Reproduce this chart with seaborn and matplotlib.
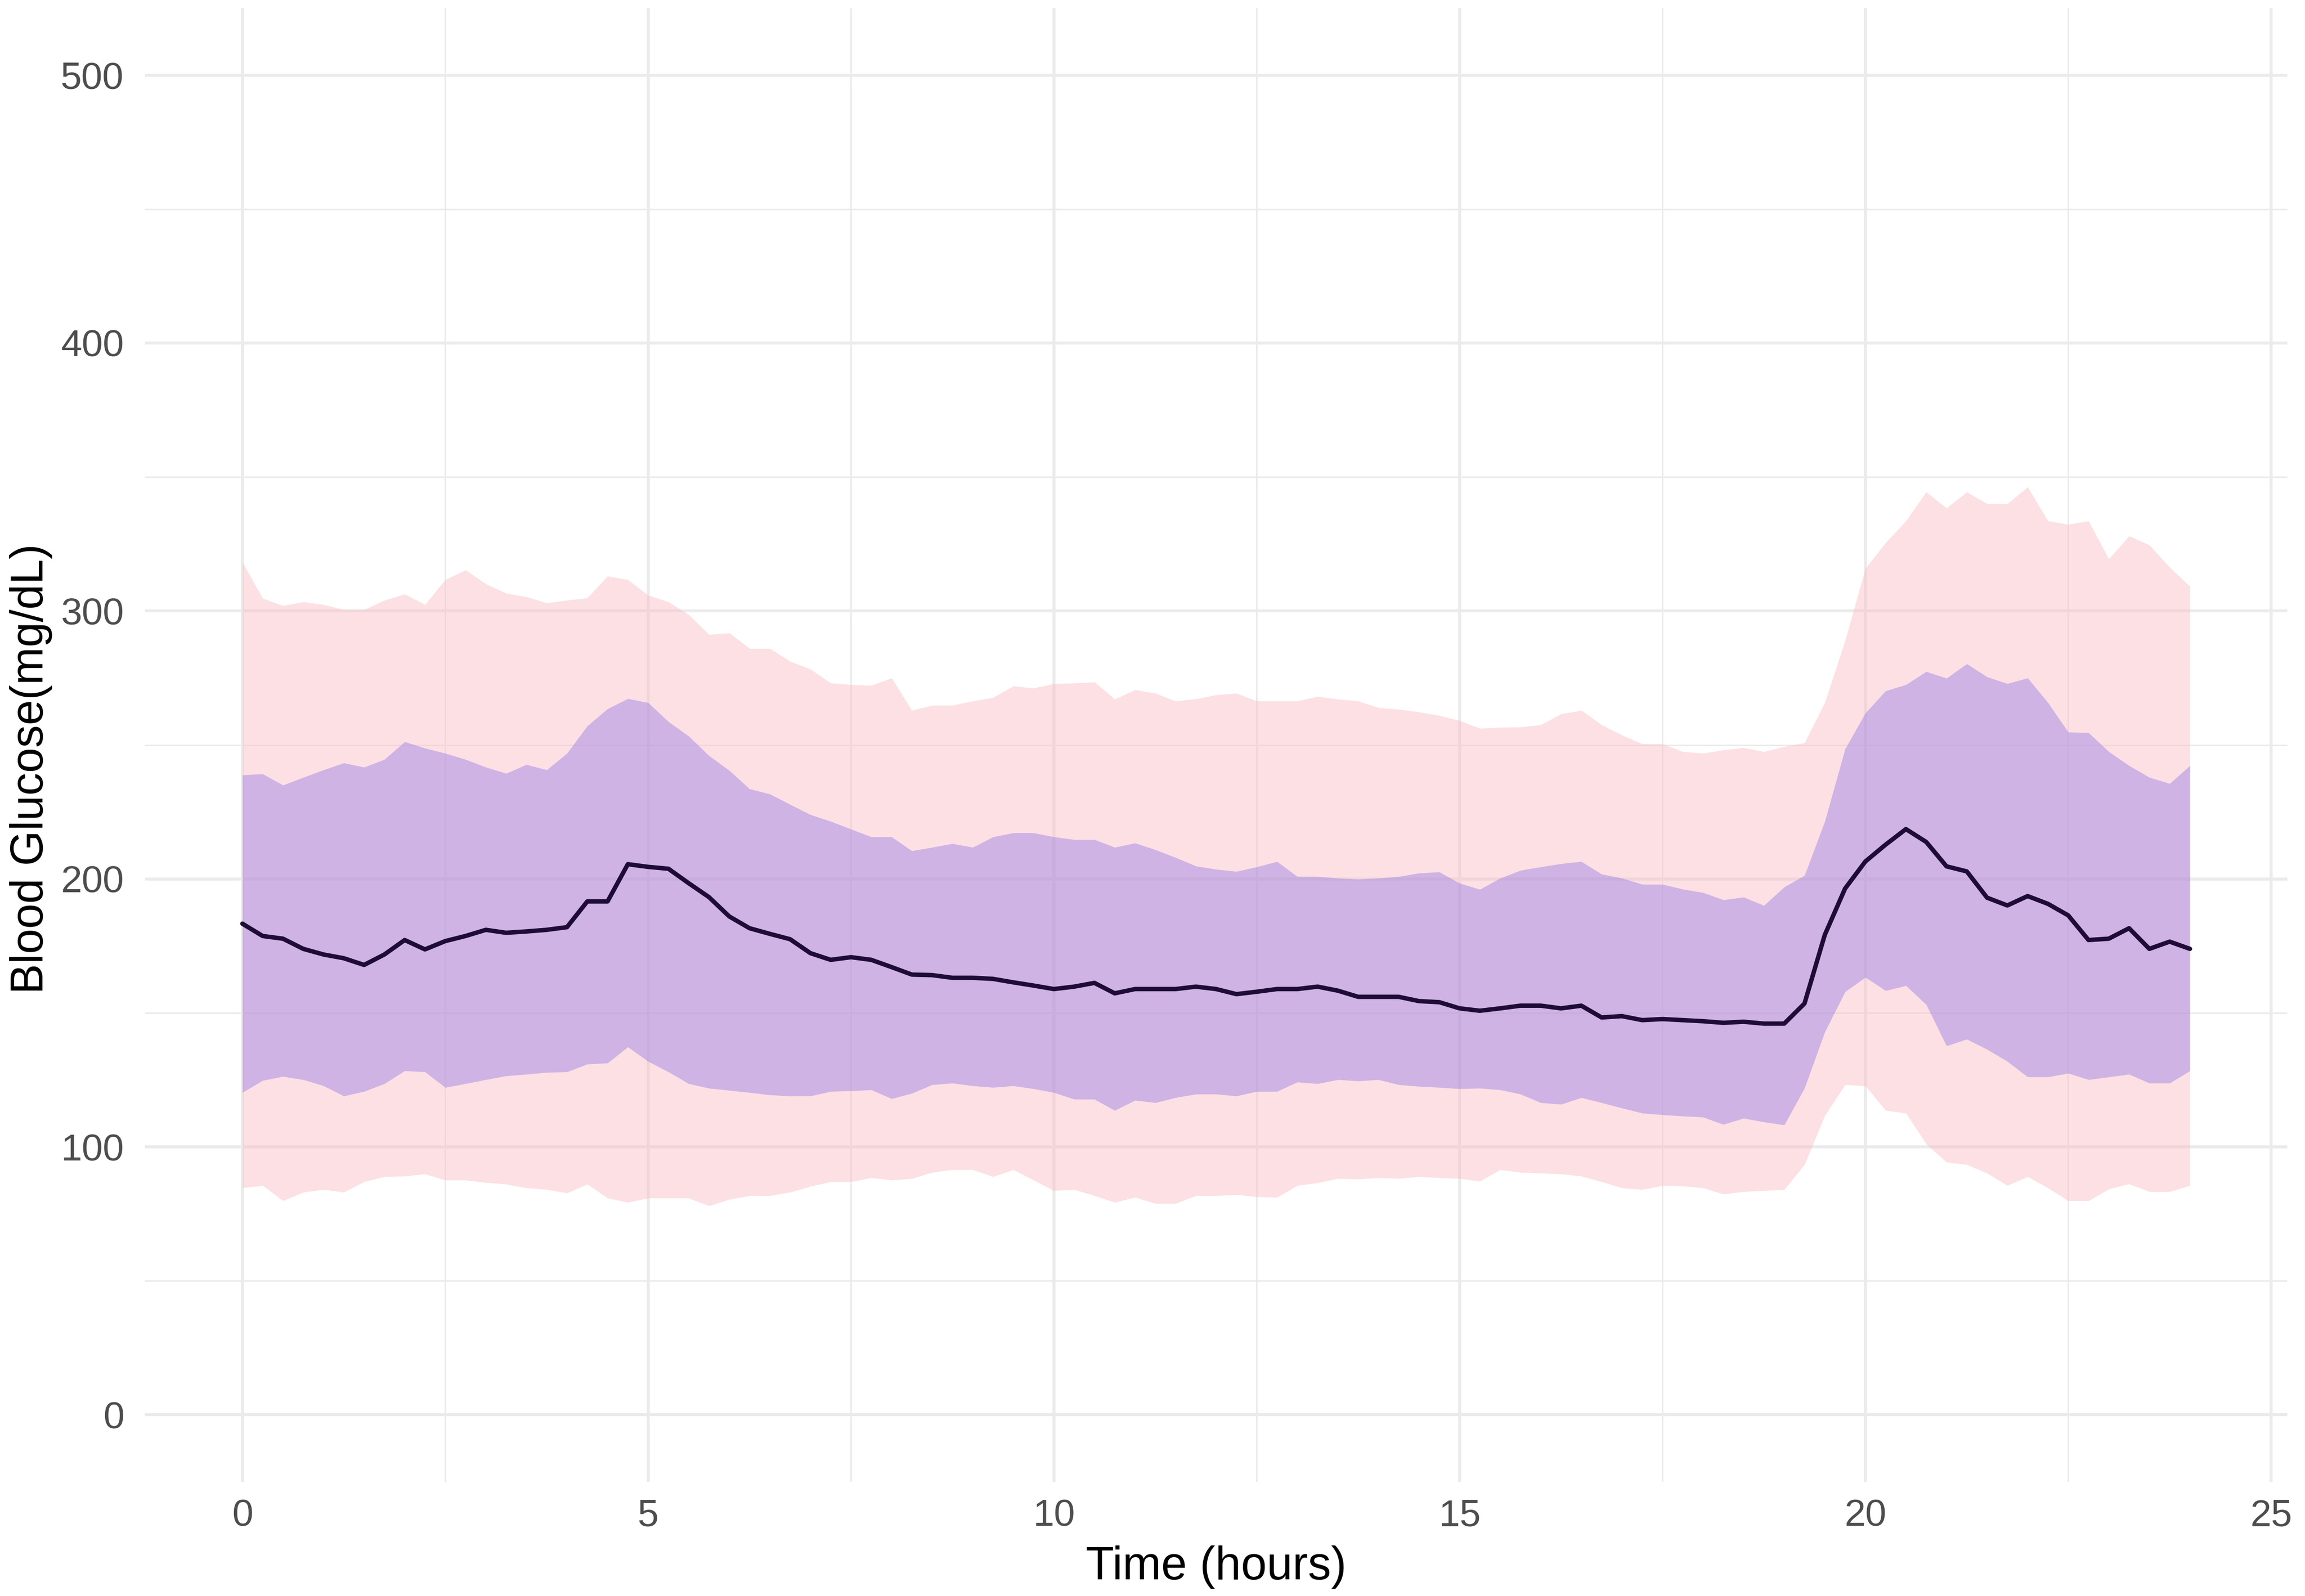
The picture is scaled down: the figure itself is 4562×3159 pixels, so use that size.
import numpy as np
import pandas as pd
import matplotlib
matplotlib.use("Agg")
import matplotlib.pyplot as plt
from matplotlib.ticker import MultipleLocator
import seaborn as sns

# 15-minute sampling grid over 24 hours
time_hours = np.linspace(0, 24, 97)

mean_bg = [
    183.3, 178.7, 177.7, 173.9, 171.8, 170.4, 167.9, 171.8, 177.2, 173.7,
    176.8, 178.7, 181.0, 179.9, 180.4, 181.0, 182.0, 191.6, 191.6, 205.5,
    204.5, 203.8, 198.4, 193.2, 186.0, 181.6, 179.5, 177.5, 172.3, 169.8,
    170.8, 169.8, 167.1, 164.3, 164.1, 163.1, 163.1, 162.7, 161.4, 160.2,
    158.9, 159.8, 161.2, 157.3, 158.9, 158.9, 158.9, 159.8, 158.9, 157.0,
    157.9, 158.9, 158.9, 159.8, 158.3, 156.0, 156.0, 156.0, 154.4, 154.0,
    151.7, 150.8, 151.7, 152.7, 152.7, 151.7, 152.7, 148.3, 148.8, 147.3,
    147.7, 147.3, 146.9, 146.3, 146.7, 146.0, 146.0, 153.5, 179.1, 196.4,
    206.5, 212.8, 218.6, 213.8, 204.7, 202.8, 193.0, 190.1, 193.6, 190.7,
    186.4, 177.2, 177.7, 181.6, 173.9, 176.6, 173.9,
]

inner_upper = [
    238.8, 239.2, 235.0, 237.9, 240.7, 243.3, 241.7, 244.6, 251.2, 248.8,
    246.9, 244.6, 241.7, 239.4, 242.7, 240.7, 246.9, 257.1, 263.5, 267.3,
    265.8, 258.7, 253.3, 246.0, 240.5, 233.6, 231.7, 227.8, 224.0, 221.5,
    218.6, 215.7, 215.7, 210.5, 211.8, 213.2, 211.8, 215.7, 217.2, 217.2,
    215.7, 214.7, 214.7, 211.8, 213.4, 210.9, 208.0, 204.8, 203.6, 202.8,
    204.5, 206.5, 200.9, 200.9, 200.3, 199.9, 200.3, 200.9, 202.2, 202.6,
    198.4, 196.1, 200.3, 203.2, 204.5, 205.7, 206.5, 201.8, 200.3, 198.0,
    198.0, 196.2, 194.9, 192.2, 193.2, 190.1, 197.0, 201.3, 221.5, 248.5,
    261.9, 270.2, 272.5, 277.4, 274.9, 280.3, 275.4, 272.9, 275.0, 265.8,
    254.8, 254.6, 247.5, 242.3, 237.9, 235.6, 242.3,
]

inner_lower = [
    120.3, 124.8, 126.3, 125.1, 122.8, 119.0, 120.7, 123.6, 128.4, 128.0,
    122.2, 123.6, 125.1, 126.5, 127.1, 127.8, 128.0, 130.9, 131.3, 137.3,
    131.9, 128.0, 123.6, 121.9, 121.1, 120.3, 119.4, 119.0, 119.0, 120.7,
    120.9, 121.3, 118.0, 120.0, 123.2, 123.8, 122.8, 122.2, 122.8, 121.7,
    120.3, 117.8, 117.8, 113.6, 117.4, 116.5, 118.4, 119.7, 119.7, 119.0,
    120.7, 120.7, 124.2, 123.6, 125.1, 124.6, 125.1, 123.2, 122.6, 122.2,
    121.7, 121.9, 121.3, 119.7, 116.5, 115.9, 118.4, 116.5, 114.5, 112.6,
    112.0, 111.5, 111.1, 108.4, 110.7, 109.3, 108.2, 121.9, 142.9, 157.9,
    163.3, 158.3, 160.2, 153.1, 137.7, 140.2, 136.4, 131.9, 126.1, 126.1,
    127.5, 125.1, 126.1, 127.1, 123.8, 123.8, 128.4,
]

outer_upper = [
    318.2, 304.7, 302.0, 303.4, 302.4, 300.5, 300.5, 304.0, 306.3, 302.4,
    311.7, 315.3, 310.1, 306.6, 305.3, 303.0, 304.0, 304.9, 313.0, 311.7,
    305.9, 303.4, 298.6, 291.2, 291.8, 286.0, 286.0, 281.2, 278.3, 273.1,
    272.5, 272.2, 275.0, 262.9, 264.8, 264.8, 266.4, 267.7, 272.0, 271.2,
    272.9, 273.1, 273.5, 267.1, 270.6, 269.3, 266.4, 267.2, 268.7, 269.3,
    266.4, 266.4, 266.4, 268.1, 267.1, 266.4, 263.9, 263.3, 262.3, 261.0,
    259.1, 256.2, 256.6, 256.7, 257.5, 261.6, 262.9, 257.5, 253.7, 250.4,
    250.4, 247.5, 246.9, 248.1, 249.0, 247.5, 249.4, 250.8, 265.8, 288.9,
    315.9, 325.5, 333.6, 344.4, 338.4, 344.4, 340.0, 340.0, 346.3, 333.6,
    332.3, 333.6, 319.4, 328.0, 324.6, 316.3, 309.2,
]

outer_lower = [
    84.7, 85.6, 79.9, 83.1, 84.1, 83.1, 87.0, 88.9, 89.1, 89.9,
    87.6, 87.6, 86.7, 86.1, 84.7, 84.1, 82.8, 86.1, 80.9, 79.3,
    80.9, 80.9, 80.9, 78.0, 80.4, 81.8, 81.8, 83.1, 85.3, 87.0,
    87.0, 88.5, 87.6, 88.2, 90.5, 91.5, 91.5, 88.9, 91.5, 87.6,
    83.7, 84.1, 81.8, 79.3, 81.2, 78.9, 78.9, 81.8, 81.8, 82.2,
    81.4, 81.2, 85.6, 86.6, 88.2, 88.0, 88.5, 88.2, 88.9, 88.5,
    88.2, 87.2, 91.5, 90.5, 90.2, 89.9, 89.1, 87.0, 84.7, 84.1,
    85.6, 85.4, 84.7, 82.4, 83.3, 83.7, 84.1, 93.4, 111.7, 123.2,
    122.8, 113.6, 112.6, 101.1, 94.3, 93.4, 90.2, 85.6, 88.9, 84.7,
    79.9, 79.9, 84.3, 86.2, 83.3, 83.3, 85.6,
]

x_ticks = [0, 5, 10, 15, 20, 25]
y_ticks = [0, 100, 200, 300, 400, 500]

df = pd.DataFrame({
    "time": time_hours,
    "mean": mean_bg,
    "q_lo": inner_lower,
    "q_hi": inner_upper,
    "o_lo": outer_lower,
    "o_hi": outer_upper,
})

sns.set_theme(style="white")
plt.rcParams["font.family"] = ["Liberation Sans", "DejaVu Sans"]

W, H, DPI = 4562, 3159, 300
fig = plt.figure(figsize=(W / DPI, H / DPI), dpi=DPI)
fig.patch.set_facecolor("white")
ax = fig.add_axes([287 / W, 1 - 2933 / H, (4527 - 287) / W, (2933 - 16) / H])
ax.set_facecolor("white")

ax.fill_between(df["time"], df["o_lo"], df["o_hi"], color="#F9BCC4",
                alpha=0.45, linewidth=0, zorder=2)
ax.fill_between(df["time"], df["q_lo"], df["q_hi"], color="#9A7DE4",
                alpha=0.45, linewidth=0, zorder=3)
sns.lineplot(data=df, x="time", y="mean", color="#1E0B36", linewidth=2.1,
             ax=ax, zorder=4)

ax.set_xlim(-1.2, 25.2)
ax.set_ylim(-25, 525)
ax.set_xticks(x_ticks)
ax.set_yticks(y_ticks)
ax.xaxis.set_minor_locator(MultipleLocator(2.5))
ax.yaxis.set_minor_locator(MultipleLocator(50))

ax.grid(which="major", color="#EBEBEB", linewidth=1.4, zorder=0)
ax.grid(which="minor", color="#EBEBEB", linewidth=0.7, zorder=0)
ax.set_axisbelow(True)
for s in ax.spines.values():
    s.set_visible(False)

ax.tick_params(axis="both", which="both", length=0, labelsize=18,
               labelcolor="#4D4D4D")
ax.tick_params(axis="x", pad=8)
ax.tick_params(axis="y", pad=10)

ax.set_xlabel("Time (hours)", fontsize=22, color="black")
ax.set_ylabel("Blood Glucose(mg/dL)", fontsize=21.5, color="black")
ax.xaxis.set_label_coords(0.5, -0.0432)
ax.yaxis.set_label_coords(-0.0432, 0.484)

fig.savefig("out.png", dpi=DPI, facecolor="white")
